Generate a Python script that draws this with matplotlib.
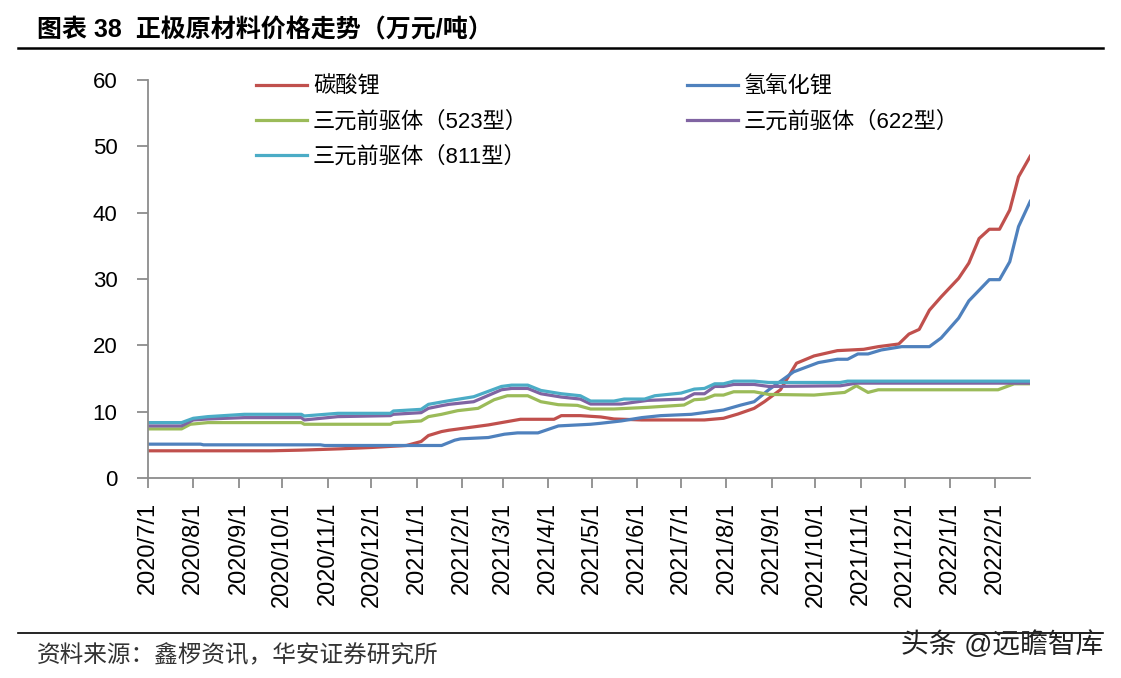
import pandas as pd
import matplotlib
matplotlib.use("Agg")
import matplotlib.pyplot as plt
import matplotlib.dates as mdates

plt.rcParams['font.family'] = ['Liberation Sans', 'Noto Sans CJK SC', 'DejaVu Sans']

# 碳酸锂
li2co3_dates = ["2020-07-01", "2020-09-23", "2020-10-14", "2020-11-10", "2020-12-01", "2020-12-25",
                "2021-01-04", "2021-01-09", "2021-01-18", "2021-01-23", "2021-02-19", "2021-03-13",
                "2021-04-05", "2021-04-10", "2021-04-23", "2021-05-07", "2021-05-16", "2021-06-04",
                "2021-07-17", "2021-07-30", "2021-08-09", "2021-08-20", "2021-08-27", "2021-09-07",
                "2021-09-18", "2021-09-30", "2021-10-16", "2021-11-03", "2021-11-13", "2021-11-27",
                "2021-12-04", "2021-12-11", "2021-12-18", "2021-12-26", "2022-01-07", "2022-01-14",
                "2022-01-21", "2022-01-28", "2022-02-04", "2022-02-11", "2022-02-17", "2022-02-25"]
li2co3_vals = [4.1, 4.1, 4.2, 4.4, 4.6, 4.9,
               5.5, 6.4, 7.0, 7.2, 8.0, 8.85,
               8.85, 9.4, 9.4, 9.2, 8.9, 8.75,
               8.75, 9.0, 9.65, 10.5, 11.5, 13.3,
               17.3, 18.4, 19.2, 19.4, 19.8, 20.2,
               21.7, 22.4, 25.3, 27.3, 30.1, 32.4,
               36.1, 37.5, 37.5, 40.4, 45.4, 48.5]

# 氢氧化锂
lioh_dates = ["2020-07-01", "2020-08-06", "2020-08-08", "2020-10-27", "2020-10-30", "2021-01-18",
              "2021-01-27", "2021-01-31", "2021-02-19", "2021-03-02", "2021-03-11", "2021-03-25",
              "2021-04-08", "2021-04-30", "2021-05-07", "2021-05-21", "2021-06-04", "2021-06-17",
              "2021-07-08", "2021-07-30", "2021-08-11", "2021-08-20", "2021-08-30", "2021-09-16",
              "2021-10-03", "2021-10-16", "2021-10-23", "2021-10-30", "2021-11-06", "2021-11-15",
              "2021-11-29", "2021-12-18", "2021-12-26", "2022-01-07", "2022-01-14", "2022-01-28",
              "2022-02-04", "2022-02-11", "2022-02-17", "2022-02-25"]
lioh_vals = [5.1, 5.1, 5.0, 5.0, 4.9, 4.9,
             5.7, 5.9, 6.1, 6.6, 6.8, 6.8,
             7.85, 8.1, 8.25, 8.6, 9.1, 9.4,
             9.6, 10.25, 11.0, 11.5, 13.3, 16.0,
             17.4, 17.9, 17.9, 18.7, 18.7, 19.3,
             19.8, 19.8, 21.1, 24.1, 26.7, 29.9,
             29.9, 32.6, 37.9, 41.7]

# 三元前驱体（523型）
p523_dates = ["2020-07-01", "2020-07-24", "2020-07-30", "2020-08-11", "2020-10-14", "2020-10-16",
              "2020-12-14", "2020-12-16", "2021-01-04", "2021-01-09", "2021-01-18", "2021-01-29",
              "2021-02-12", "2021-02-23", "2021-03-04", "2021-03-18", "2021-03-27", "2021-04-08",
              "2021-04-21", "2021-04-30", "2021-05-16", "2021-06-08", "2021-07-03", "2021-07-10",
              "2021-07-17", "2021-07-24", "2021-07-30", "2021-08-06", "2021-08-20", "2021-08-30",
              "2021-09-30", "2021-10-21", "2021-10-29", "2021-11-06", "2021-11-13", "2022-02-03",
              "2022-02-14", "2022-02-25"]
p523_vals = [7.4, 7.4, 8.1, 8.35, 8.35, 8.1,
             8.1, 8.35, 8.6, 9.25, 9.6, 10.15,
             10.5, 11.8, 12.4, 12.4, 11.5, 11.05,
             10.95, 10.4, 10.4, 10.65, 11.0, 11.8,
             11.9, 12.5, 12.5, 13.0, 13.0, 12.6,
             12.5, 12.9, 13.9, 12.9, 13.3, 13.3,
             14.2, 14.2]

# 三元前驱体（622型）
p622_dates = ["2020-07-01", "2020-07-24", "2020-08-01", "2020-08-11", "2020-09-05", "2020-10-14",
              "2020-10-16", "2020-11-08", "2020-12-14", "2020-12-16", "2021-01-04", "2021-01-09",
              "2021-01-18", "2021-01-23", "2021-02-09", "2021-02-28", "2021-03-07", "2021-03-18",
              "2021-03-27", "2021-04-10", "2021-04-23", "2021-04-30", "2021-05-21", "2021-06-08",
              "2021-07-03", "2021-07-10", "2021-07-17", "2021-07-24", "2021-07-30", "2021-08-06",
              "2021-08-20", "2021-08-30", "2021-10-18", "2021-10-29", "2022-02-25"]
p622_vals = [7.85, 7.85, 8.75, 8.9, 9.1, 9.1,
             8.75, 9.25, 9.4, 9.6, 9.85, 10.5,
             10.9, 11.1, 11.5, 13.3, 13.5, 13.5,
             12.7, 12.2, 11.9, 11.15, 11.15, 11.7,
             11.9, 12.7, 12.7, 13.8, 13.8, 14.1,
             14.1, 13.8, 13.9, 14.3, 14.3]

# 三元前驱体（811型）
p811_dates = ["2020-07-01", "2020-07-24", "2020-08-01", "2020-08-11", "2020-09-05", "2020-10-14",
              "2020-10-16", "2020-11-08", "2020-12-14", "2020-12-16", "2021-01-04", "2021-01-09",
              "2021-01-23", "2021-02-09", "2021-02-28", "2021-03-07", "2021-03-18", "2021-03-27",
              "2021-04-10", "2021-04-23", "2021-04-30", "2021-05-16", "2021-05-23", "2021-06-06",
              "2021-06-13", "2021-07-01", "2021-07-10", "2021-07-17", "2021-07-24", "2021-07-30",
              "2021-08-06", "2021-08-20", "2021-08-30", "2021-10-18", "2021-10-23", "2022-02-25"]
p811_vals = [8.35, 8.35, 9.0, 9.25, 9.6, 9.6,
             9.35, 9.75, 9.75, 10.1, 10.35, 11.1,
             11.65, 12.25, 13.8, 14.0, 14.0, 13.2,
             12.7, 12.4, 11.6, 11.6, 11.9, 11.9,
             12.4, 12.8, 13.4, 13.5, 14.2, 14.2,
             14.6, 14.6, 14.4, 14.4, 14.6, 14.6]

series = [
    ("碳酸锂", li2co3_dates, li2co3_vals, "#C0504D"),
    ("氢氧化锂", lioh_dates, lioh_vals, "#4F81BD"),
    ("三元前驱体（523型）", p523_dates, p523_vals, "#9BBB59"),
    ("三元前驱体（622型）", p622_dates, p622_vals, "#8064A2"),
    ("三元前驱体（811型）", p811_dates, p811_vals, "#4BACC6"),
]

fig = plt.figure(figsize=(11.21, 6.78), dpi=100)
ax = fig.add_axes([0.132, 0.295, 0.787, 0.587])

lines = {}
for name, d, v, c in series:
    ln, = ax.plot(pd.to_datetime(d), v, color=c, lw=2.3, label=name)
    lines[name] = ln

ax.set_xlim(pd.Timestamp("2020-07-01"), pd.Timestamp("2022-02-25"))
ax.set_ylim(0, 60)
ax.set_yticks(range(0, 61, 10))

ax.xaxis.set_major_locator(mdates.MonthLocator(bymonthday=1))
ax.xaxis.set_major_formatter(plt.FuncFormatter(
    lambda x, pos: "{0}/{1}/{2}".format(mdates.num2date(x).year, mdates.num2date(x).month, mdates.num2date(x).day)))

for s in ["top", "right"]:
    ax.spines[s].set_visible(False)
for s in ["left", "bottom"]:
    ax.spines[s].set_color("#8c8c8c")
    ax.spines[s].set_linewidth(1.3)

ax.tick_params(axis="y", direction="out", length=8, width=1.3, color="#8c8c8c", labelsize=16, pad=14)
ax.tick_params(axis="x", direction="out", length=7, width=1.3, color="#8c8c8c", labelsize=17, pad=10, labelrotation=90)

# legend, row-major order like the original
order = ["碳酸锂", "三元前驱体（523型）", "三元前驱体（811型）", "氢氧化锂", "三元前驱体（622型）"]
ax.legend([lines[k] for k in order], order, ncol=2, frameon=False,
          loc="upper left", bbox_to_anchor=(0.1, 1.06),
          fontsize=16, handlelength=2.3, handletextpad=0.25,
          columnspacing=7.15, labelspacing=0.62)

# title and footer
fig.text(0.033, 0.955, "图表 38  正极原材料价格走势（万元/吨）", fontsize=18, fontweight="bold",
         ha="left", va="center")
fig.add_artist(plt.Line2D([0.016, 0.984], [0.929, 0.929], color="black", lw=1.8))
fig.add_artist(plt.Line2D([0.016, 0.984], [0.066, 0.066], color="black", lw=1.2))
fig.text(0.033, 0.033, "资料来源：鑫椤资讯，华安证券研究所", fontsize=17, color="#333333",
         ha="left", va="center")
fig.text(0.984, 0.048, "头条 @远瞻智库", fontsize=20, color="#222222", ha="right", va="center")

plt.savefig("out.png", dpi=100)
